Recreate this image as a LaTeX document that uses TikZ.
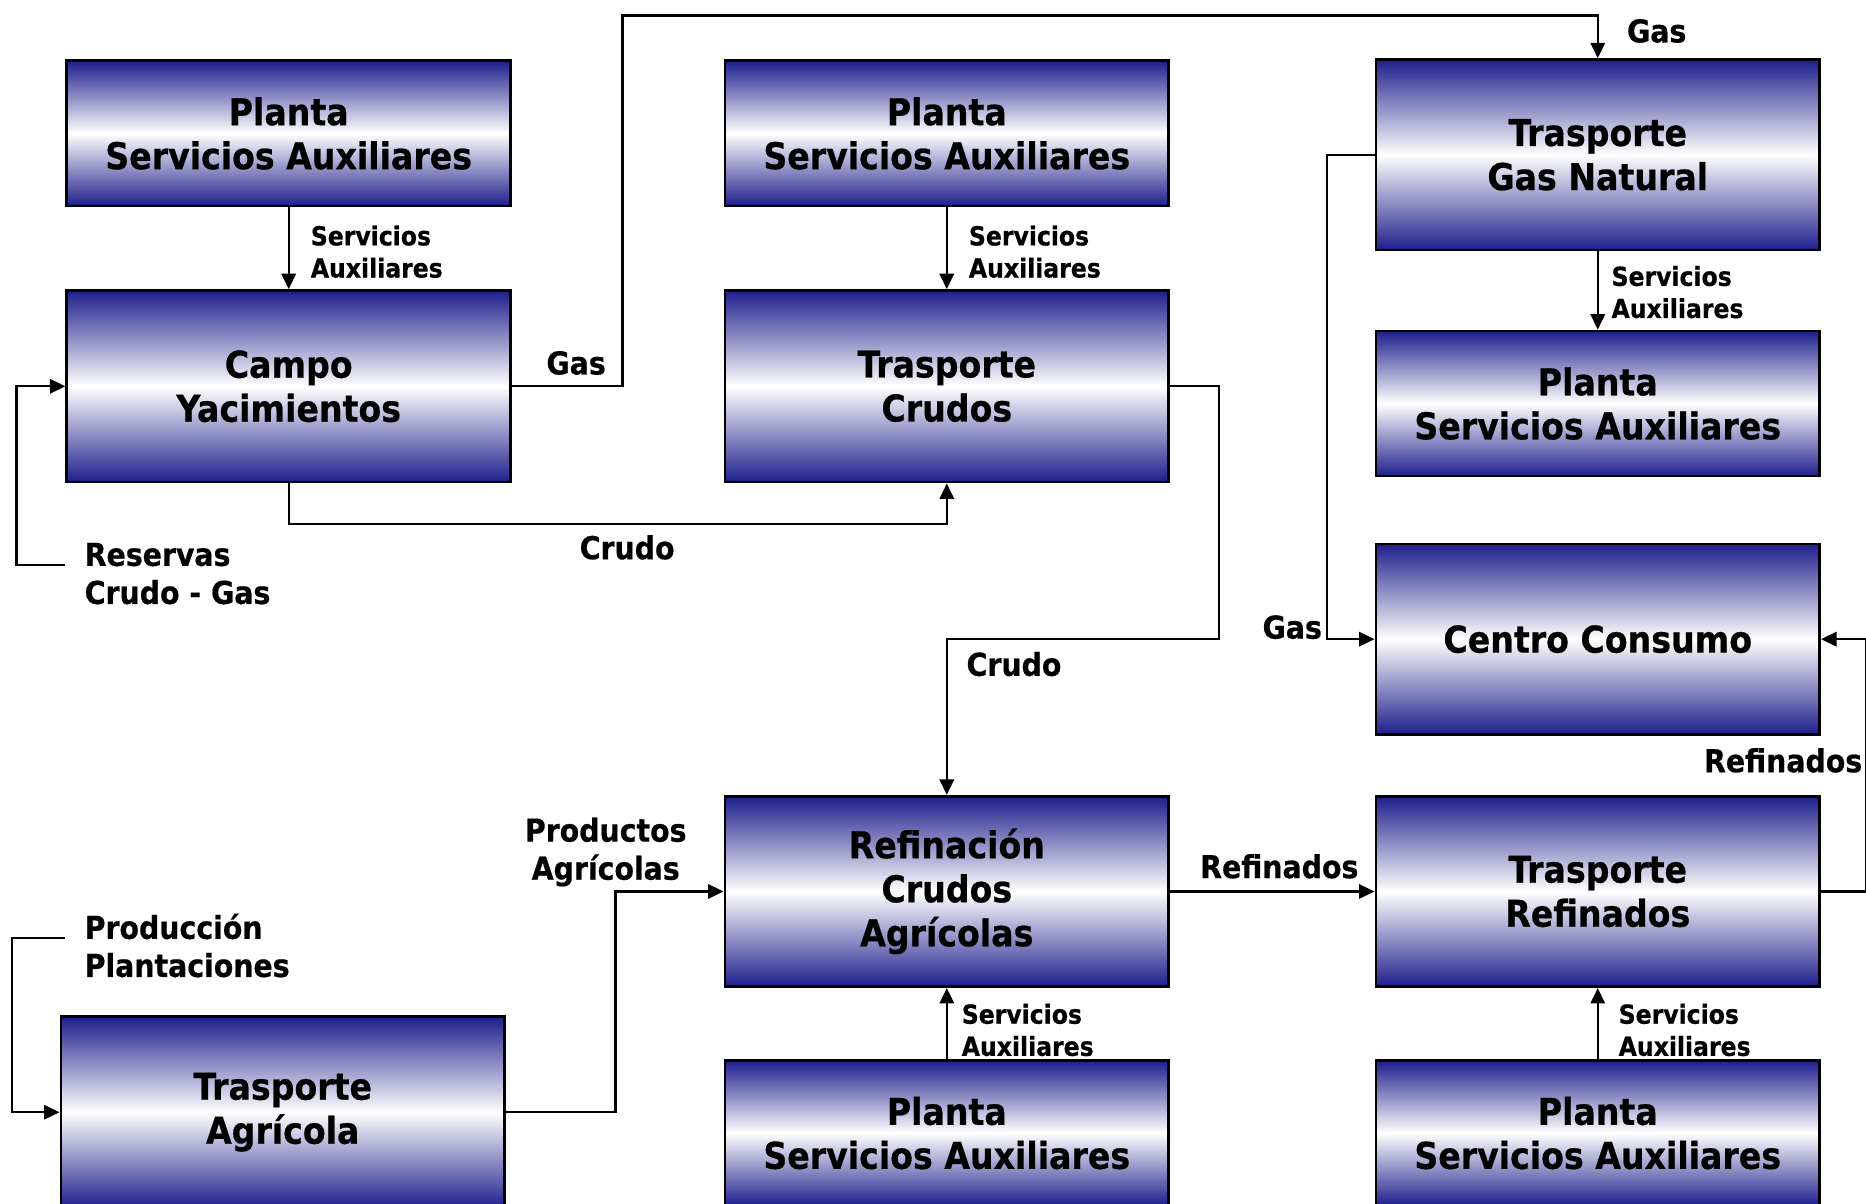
\documentclass[tikz,border=0pt]{standalone}
\usepackage{fontspec}
\setmainfont{DejaVu Sans Condensed}[BoldFeatures={FakeBold=0.6}]
\usetikzlibrary{arrows.meta}
\definecolor{navy}{RGB}{30,30,140}
\tikzset{
 box/.style={draw=black, line width=2.2pt, top color=navy, bottom color=navy, middle color=white,
   minimum width=373pt, minimum height=#1, inner sep=0pt, align=center,
   font=\bfseries\fontsize{31}{37}\selectfont, anchor=north west},
 box/.default=122pt,
 flow/.style={line width=2pt, -{Triangle[length=13pt,width=12pt]}},
 slabel/.style={font=\bfseries\fontsize{22}{27}\selectfont, align=left, inner sep=0pt, anchor=west},
 mlabel/.style={font=\bfseries\fontsize{26.5}{32}\selectfont, align=left, inner sep=0pt},
}
\begin{document}
\begin{tikzpicture}[x=1pt,y=-1pt]
\path[use as bounding box, clip] (0,0) rectangle (1568,1011);
\fill[white] (0,0) rectangle (1568,1011);

% boxes
\node[box] (psa1) at (55,50) {Planta\\Servicios Auxiliares};
\node[box=161pt] (campo) at (55,243) {Campo\\Yacimientos};
\node[box] (psa2) at (608,50) {Planta\\Servicios Auxiliares};
\node[box=161pt] (tcru) at (608,243) {Trasporte\\Crudos};
\node[box=160pt] (tgas) at (1155,49) {Trasporte\\Gas Natural};
\node[box] (psa3) at (1155,277) {Planta\\Servicios Auxiliares};
\node[box=160pt] (cc) at (1155,456) {Centro Consumo};
\node[box=160pt] (ref) at (608,668) {Refinación\\Crudos\\Agrícolas};
\node[box=160pt] (tref) at (1155,668) {Trasporte\\Refinados};
\node[box] (psa4) at (608,890) {Planta\\Servicios Auxiliares};
\node[box] (psa5) at (1155,890) {Planta\\Servicios Auxiliares};
\node[box=161pt] (tagr) at (50,853) {Trasporte\\Agrícola};

\coordinate (res) at (55,475);
\coordinate (prod) at (55,788);

% connectors
\draw[flow] (psa1.south) -- (campo.north);
\draw[flow] (psa2.south) -- (tcru.north);
\draw[flow] (tgas.south) -- (psa3.north);
\draw[flow] (psa4.north) -- (ref.south);
\draw[flow] (psa5.north) -- (tref.south);
\draw[flow] (ref.east) -- (tref.west);
\draw[flow] (campo.east) -- ++(93,0) |- ++(0,-311.5) -| (tgas.north);
\draw[flow] (campo.south) -- ++(0,34) -| (tcru.south);
\draw[flow] (res) -- ++(-41,0) |- (campo.west);
\draw[flow] (tcru.east) -- ++(41,0) -- ++(0,212.5) -| (ref.north);
\draw[flow] (tgas.west) -- ++(-40,0) |- (cc.west);
\draw[flow] (tref.east) -- ++(38,0) |- (cc.east);
\draw[flow] (tagr.east) -- ++(92,0) |- (ref.west);
\draw[flow] (prod) -- ++(-45,0) |- (tagr.west);

% labels
\node[slabel] (l1) at (261,211.5) {Servicios\\Auxiliares};
\node[slabel] (l2) at (814,211.5) {Servicios\\Auxiliares};
\node[slabel] (l3) at (1354,245.5) {Servicios\\Auxiliares};
\node[slabel] (l4) at (808,865.5) {Servicios\\Auxiliares};
\node[slabel] (l5) at (1360,865.5) {Servicios\\Auxiliares};
\node[mlabel, anchor=west] (g1) at (459,305) {Gas};
\node[mlabel, anchor=west] (g2) at (1367,26) {Gas};
\node[mlabel, anchor=east] (g3) at (1111,527) {Gas};
\node[mlabel] (c1) at (527,460) {Crudo};
\node[mlabel, anchor=west] (c2) at (812,558) {Crudo};
\node[mlabel, anchor=west] (r1) at (71,482) {Reservas\\Crudo - Gas};
\node[mlabel] (rf1) at (1075,728) {Refinados};
\node[mlabel, anchor=east] (rf2) at (1565,639) {Refinados};
\node[mlabel, align=center] (pa) at (509,716) {Productos\\Agrícolas};
\node[mlabel, anchor=west] (pp) at (71,794.5) {Producción\\Plantaciones};
\end{tikzpicture}
\end{document}
